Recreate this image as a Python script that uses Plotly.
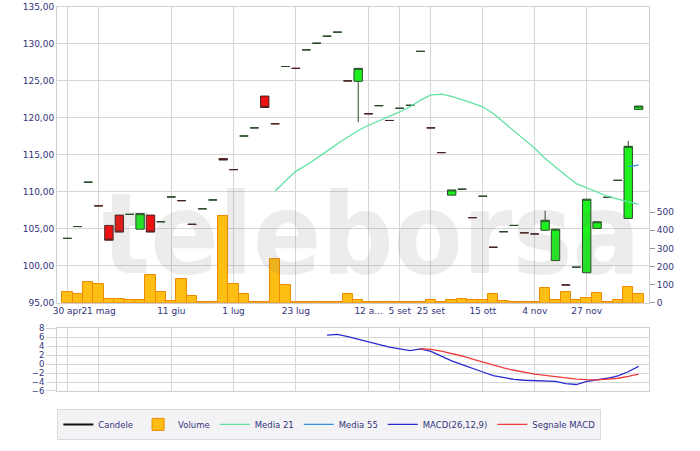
import plotly.graph_objects as go

# ---------------- data ----------------
idx = list(range(56))
tick_pos = [0, 3, 10, 16, 22, 29, 32, 35, 40, 45, 50]
tick_labels = ["30 apr", "21 mag", "11 giu", "1 lug", "23 lug", "12 a...",
               "5 set", "25 set", "15 ott", "4 nov", "27 nov"]

open_ = [103.7, 105.3, 111.3, 108.1, 105.45, 106.85, 106.95, 104.95, 106.85, 105.95,
         109.3, 108.8, 105.6, 107.7, 108.9, 114.5, 113.0, 117.55, 118.65, 122.95,
         119.2, 126.95, 126.7, 129.2, 130.1, 131.05, 131.6, 125.0, 124.95, 120.55,
         121.65, 119.65, 121.3, 121.7, 129.0, 118.65, 115.3, 109.55, 110.35, 106.5,
         109.4, 102.5, 104.6, 105.45, 104.45, 104.3, 104.8, 100.7, 97.4, 99.8,
         99.05, 105.05, 109.25, 111.55, 106.4, 121.15]
close_ = [103.7, 105.3, 111.3, 108.1, 103.45, 104.55, 106.95, 107.05, 104.55, 105.95,
          109.3, 108.8, 105.6, 107.7, 108.9, 114.3, 113.0, 117.55, 118.65, 121.4,
          119.2, 126.95, 126.7, 129.2, 130.1, 131.05, 131.6, 125.0, 126.7, 120.55,
          121.65, 119.65, 121.3, 121.7, 129.0, 118.65, 115.3, 110.25, 110.35, 106.5,
          109.4, 102.5, 104.6, 105.45, 104.45, 104.3, 106.15, 104.95, 97.4, 99.8,
          109.0, 105.95, 109.25, 111.55, 116.15, 121.6]
high_ = [103.7, 105.3, 111.3, 108.1, 105.45, 106.85, 106.95, 107.05, 106.85, 105.95,
         109.3, 108.8, 105.6, 107.7, 108.9, 114.5, 113.0, 117.55, 118.65, 122.95,
         119.2, 126.95, 126.7, 129.2, 130.1, 131.05, 131.6, 125.0, 126.7, 120.55,
         121.65, 119.65, 121.3, 121.7, 129.0, 118.65, 115.3, 110.25, 110.35, 106.5,
         109.4, 102.5, 104.6, 105.45, 104.45, 104.3, 107.45, 104.95, 97.4, 99.8,
         109.0, 105.95, 109.25, 111.55, 116.9, 121.6]
low_ = [103.7, 105.3, 111.3, 108.1, 103.45, 104.55, 106.95, 104.95, 104.55, 105.95,
        109.3, 108.8, 105.6, 107.7, 108.9, 114.3, 113.0, 117.55, 118.65, 121.4,
        119.2, 126.95, 126.7, 129.2, 130.1, 131.05, 131.6, 125.0, 119.4, 120.55,
        121.65, 119.65, 121.3, 121.7, 129.0, 118.65, 115.3, 109.55, 110.35, 106.5,
        109.4, 102.5, 104.6, 105.45, 104.45, 104.3, 104.8, 100.7, 97.4, 99.8,
        99.05, 105.05, 109.25, 111.55, 106.4, 121.15]

volume = [59, 48, 114, 102, 19, 22, 17, 13, 152, 59,
          8, 131, 37, 3, 3, 481, 102, 49, 5, 5,
          243, 96, 3, 3, 3, 3, 3, 48, 17, 3,
          3, 3, 3, 3, 3, 13, 3, 16, 23, 15,
          16, 48, 11, 3, 3, 3, 83, 17, 57, 13,
          28, 52, 5, 17, 88, 46]

media21 = [None] * 20 + [110.1, 111.4, 112.8, 113.6, 114.5, 115.5, 116.5, 117.4, 118.3, 119.0,
                         119.6, 120.1, 120.8, 121.5, 122.4, 123.1, 123.2, 122.9, 122.5, 122.0,
                         121.5, 120.6, 119.4, 118.2, 117.1, 115.9, 114.5, 113.3, 112.2, 111.1,
                         110.5, 109.9, 109.4, 109.0, 108.6, 108.3]
media55 = [None] * 54 + [113.4, 113.6]

macd = [None] * 25 + [6.5, 6.65, 6.15, 5.55, 4.9, 4.35, 3.8, 3.4, 3.05, 3.4,
                      2.85, 1.8, 0.75, -0.1, -1.0, -1.75, -2.55, -3.0, -3.4, -3.6,
                      -3.73, -3.73, -3.85, -4.33, -4.55, -3.85, -3.55, -3.15, -2.6, -1.7,
                      -0.5]
signal = [None] * 34 + [3.45, 3.3, 2.9, 2.4, 1.83, 1.14, 0.45, -0.18, -0.81, -1.36,
                        -1.8, -2.21, -2.5, -2.8, -3.08, -3.35, -3.47, -3.5, -3.35, -3.15,
                        -2.75, -2.25]

price_ticks = [95, 100, 105, 110, 115, 120, 125, 130, 135]
vol_ticks = [0, 100, 200, 300, 400, 500]
macd_ticks = [-6, -4, -2, 0, 2, 4, 6, 8]

# ---------------- styles ----------------
FONT = "DejaVu Sans"
TXT = "#33337a"
GRID = "#d6d6d6"

fig = go.Figure()

fig.add_trace(go.Bar(
    x=idx, y=volume, yaxis="y2", name="Volume",
    marker=dict(color="#FFBE14", line=dict(color="#F08A00", width=1)),
    width=1.0, showlegend=True, hoverinfo="skip", legendrank=2))

fig.add_trace(go.Candlestick(
    x=idx, open=open_, high=high_, low=low_, close=close_, name="Candele",
    increasing=dict(fillcolor="#1EF01E", line=dict(color="#2a4a2a", width=1)),
    decreasing=dict(fillcolor="#EE1111", line=dict(color="#4a2222", width=1)),
    whiskerwidth=0, showlegend=False))

fig.add_trace(go.Scatter(x=idx, y=media21, mode="lines", name="Media 21",
                         line=dict(color="#5FE3A1", width=1.3), legendrank=3))
fig.add_trace(go.Scatter(x=idx, y=media55, mode="lines", name="Media 55",
                         line=dict(color="#3A8EDB", width=1.3), legendrank=4))
fig.add_trace(go.Scatter(x=idx, y=macd, mode="lines", name="MACD(26,12,9)",
                         xaxis="x2", yaxis="y3",
                         line=dict(color="#2A2ACF", width=1.3), legendrank=5))
fig.add_trace(go.Scatter(x=idx, y=signal, mode="lines", name="Segnale MACD",
                         xaxis="x2", yaxis="y3",
                         line=dict(color="#EE3B3B", width=1.3), legendrank=6))
# legend entry for the candles, drawn as a line like the original
fig.add_trace(go.Scatter(x=[None], y=[None], mode="lines", name="Candele",
                         line=dict(color="#111111", width=2), legendrank=1))

axis_common = dict(showgrid=True, gridcolor=GRID, gridwidth=1, zeroline=False,
                   showline=True, linecolor="#cfcfcf", linewidth=1, mirror=True,
                   automargin=False)

fig.update_layout(
    width=700, height=451,
    margin=dict(l=57, r=51, t=7, b=60, autoexpand=False),
    paper_bgcolor="white", plot_bgcolor="white",
    separators=",.",
    font=dict(family=FONT, size=9, color=TXT),
    bargap=0, boxgap=0.12, boxgroupgap=0.08,
    xaxis=dict(domain=[0, 1], range=[-1, 56], anchor="y",
               tickmode="array", tickvals=tick_pos, ticktext=tick_labels,
               ticks="", tickangle=0, tickfont=dict(size=9, color=TXT),
               rangeslider=dict(visible=False), **axis_common),
    yaxis=dict(domain=[0.23, 1], range=[95, 135], anchor="x",
               tickmode="array", tickvals=price_ticks, tickformat=".2f",
               ticks="", tickfont=dict(size=9, color=TXT), **axis_common),
    yaxis2=dict(overlaying="y", side="right", range=[0, 1635], anchor="x",
                tickmode="array", tickvals=vol_ticks, showgrid=False,
                zeroline=False, showline=False, automargin=False,
                ticks="outside", ticklen=5, tickcolor="#9a9a9a",
                tickfont=dict(size=9, color=TXT)),
    xaxis2=dict(domain=[0, 1], range=[-1, 56], anchor="y3", matches="x",
                tickmode="array", tickvals=tick_pos, showticklabels=False,
                ticks="", **axis_common),
    yaxis3=dict(domain=[0, 0.163], range=[-6, 8], anchor="x2",
                tickmode="array", tickvals=macd_ticks,
                ticks="outside", ticklen=10, tickcolor=GRID,
                tickfont=dict(size=8.5, color=TXT), **axis_common),
    legend=dict(orientation="h", x=0.46, xanchor="center", y=-0.087, yanchor="middle",
                bgcolor="#f3f3f6", bordercolor="#d9d9de", borderwidth=1,
                font=dict(size=8.5, color=TXT), traceorder="normal",
                itemwidth=30, tracegroupgap=0),
    annotations=[dict(text="<b>teleborsa</b>", xref="paper", yref="paper",
                      x=0.53, y=0.235, xanchor="center", yanchor="bottom",
                      showarrow=False,
                      font=dict(family="DejaVu Sans Condensed, DejaVu Sans", size=112,
                                color="rgba(110,110,110,0.13)"))],
)

fig.write_html("out.html",
               config={"displayModeBar": False},
               post_script="document.body.style.margin='0';document.body.style.padding='0';")
